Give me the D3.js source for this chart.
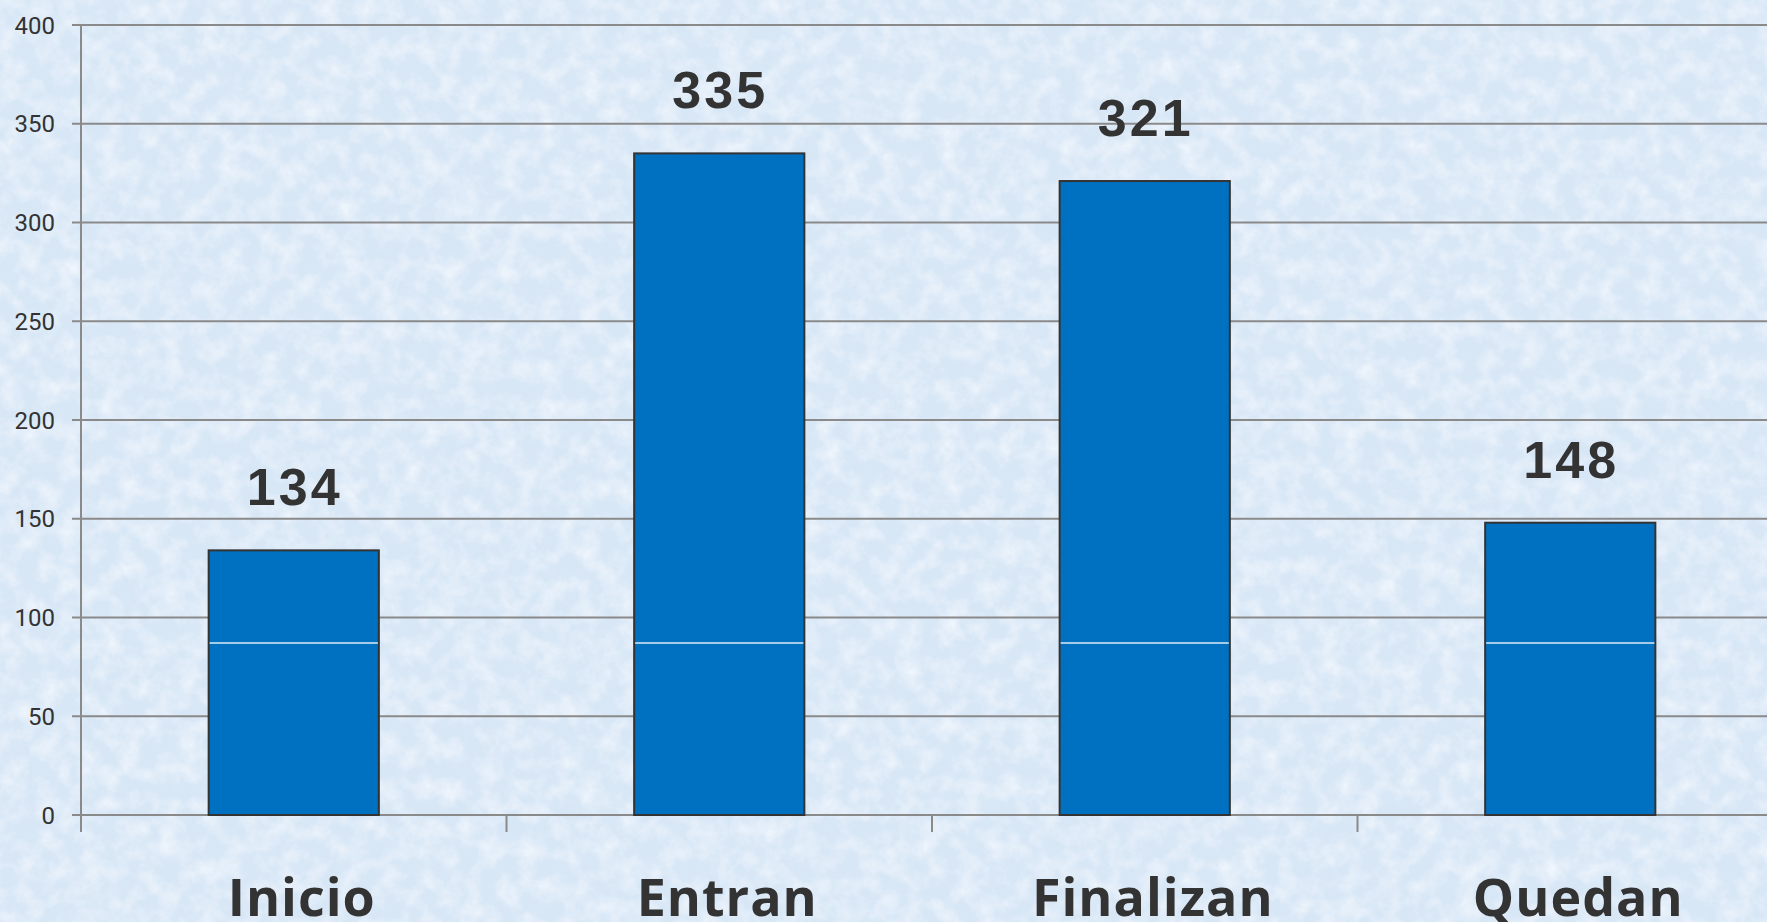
<!DOCTYPE html>
<html>
<head>
    <title>Inicio / Entran / Finalizan / Quedan</title>
    <script src="https://d3js.org/d3.v7.min.js"></script>
    <style>
        body {
            margin: 0;
            overflow: hidden;
            background-color: #dbe8f6;
        }
        .tick-label {
            font-family: Roboto, "Liberation Sans", sans-serif;
            font-size: 24px;
            fill: #333;
        }
        .value-label {
            font-family: "Liberation Sans", Arial, sans-serif;
            font-weight: bold;
            font-size: 52px;
            letter-spacing: 3px;
            fill: #333;
        }
        .cat-label {
            font-family: "Open Sans", "Liberation Sans", sans-serif;
            font-weight: bold;
            font-size: 52px;
            letter-spacing: 1px;
            fill: #333;
        }
    </style>
</head>
<body>
    <div id="chart"></div>
    <script>
        // chart data
        const categories = ["Inicio", "Entran", "Finalizan", "Quedan"];
        const values = [134, 335, 321, 148];
        const yTicks = [0, 50, 100, 150, 200, 250, 300, 350, 400];

        const width = 1767;
        const height = 922;

        const svg = d3.select("#chart")
            .append("svg")
            .attr("width", width)
            .attr("height", height);

        // paper-like mottled background
        const defs = svg.append("defs");
        const paper = defs.append("filter")
            .attr("id", "paper")
            .attr("x", 0).attr("y", 0)
            .attr("width", "100%").attr("height", "100%");
        paper.append("feTurbulence")
            .attr("type", "fractalNoise")
            .attr("baseFrequency", "0.05")
            .attr("numOctaves", 4)
            .attr("seed", 7);
        paper.append("feColorMatrix")
            .attr("type", "matrix")
            .attr("values", "0 0 0 0 0.95  0 0 0 0 0.97  0 0 0 0 1  1.3 0 0 0 -0.5");

        const speck = defs.append("filter")
            .attr("id", "speck")
            .attr("x", 0).attr("y", 0)
            .attr("width", "100%").attr("height", "100%");
        speck.append("feTurbulence")
            .attr("type", "fractalNoise")
            .attr("baseFrequency", "0.15")
            .attr("numOctaves", 2)
            .attr("seed", 3);
        speck.append("feColorMatrix")
            .attr("type", "matrix")
            .attr("values", "0 0 0 0 0.70  0 0 0 0 0.79  0 0 0 0 0.90  0 1.4 0 0 -0.72");

        svg.append("rect")
            .attr("width", width).attr("height", height)
            .attr("fill", "#d8e7f6");
        svg.append("rect")
            .attr("width", width).attr("height", height)
            .attr("filter", "url(#paper)");
        svg.append("rect")
            .attr("width", width).attr("height", height)
            .attr("filter", "url(#speck)")
            .attr("opacity", 0.45);

        // plot area
        const plotLeft = 81;
        const plotBottom = 815;
        const plotTop = 25;
        const step = 425.5;

        const x = d3.scaleBand()
            .domain(categories)
            .range([plotLeft, plotLeft + step * categories.length])
            .paddingInner(0.6)
            .paddingOuter(0.3);

        const y = d3.scaleLinear()
            .domain([0, 400])
            .range([plotBottom, plotTop]);

        // gridlines
        svg.append("g")
            .selectAll("line")
            .data(yTicks)
            .enter()
            .append("line")
            .attr("x1", plotLeft - 9)
            .attr("x2", width)
            .attr("y1", d => y(d))
            .attr("y2", d => y(d))
            .attr("stroke", "#8a8a8a")
            .attr("stroke-width", 2);

        // y axis line
        svg.append("line")
            .attr("x1", plotLeft).attr("x2", plotLeft)
            .attr("y1", plotTop).attr("y2", plotBottom + 17)
            .attr("stroke", "#8a8a8a")
            .attr("stroke-width", 2);

        // y tick labels
        svg.append("g")
            .selectAll("text")
            .data(yTicks)
            .enter()
            .append("text")
            .attr("class", "tick-label")
            .attr("x", 55)
            .attr("y", d => y(d))
            .attr("dy", "0.36em")
            .attr("text-anchor", "end")
            .text(d => d);

        // category separators on x axis
        svg.append("g")
            .selectAll("line")
            .data(categories.slice(1))
            .enter()
            .append("line")
            .attr("x1", d => x(d) - x.step() * x.paddingInner() / 2)
            .attr("x2", d => x(d) - x.step() * x.paddingInner() / 2)
            .attr("y1", plotBottom)
            .attr("y2", plotBottom + 17)
            .attr("stroke", "#8a8a8a")
            .attr("stroke-width", 2);

        // bars
        svg.append("g")
            .selectAll("rect")
            .data(values)
            .enter()
            .append("rect")
            .attr("x", (d, i) => x(categories[i]))
            .attr("y", d => y(d))
            .attr("width", x.bandwidth())
            .attr("height", d => plotBottom - y(d))
            .attr("fill", "#0070c0")
            .attr("stroke", "#333")
            .attr("stroke-width", 2);

        // thin light seam running through the bars
        const seamY = 643;
        svg.append("g")
            .selectAll("line")
            .data(values)
            .enter()
            .append("line")
            .attr("x1", (d, i) => x(categories[i]) + 1)
            .attr("x2", (d, i) => x(categories[i]) + x.bandwidth() - 1)
            .attr("y1", seamY).attr("y2", seamY)
            .attr("stroke", "#dceaf8")
            .attr("stroke-width", 1.5);

        // value labels
        svg.append("g")
            .selectAll("text")
            .data(values)
            .enter()
            .append("text")
            .attr("class", "value-label")
            .attr("x", (d, i) => x(categories[i]) + x.bandwidth() / 2 + 1)
            .attr("y", d => y(d) - 45)
            .attr("text-anchor", "middle")
            .text(d => d);

        // category labels
        svg.append("g")
            .selectAll("text")
            .data(categories)
            .enter()
            .append("text")
            .attr("class", "cat-label")
            .attr("x", d => x(d) + x.bandwidth() / 2 + 8)
            .attr("y", 916)
            .attr("text-anchor", "middle")
            .text(d => d);
    </script>
</body>
</html>
